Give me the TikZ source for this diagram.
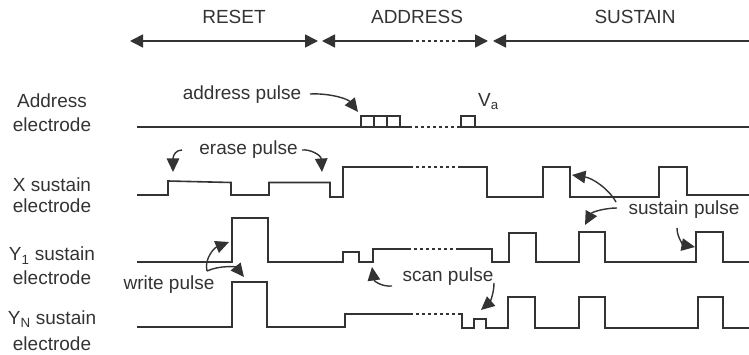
\documentclass[tikz,border=0pt]{standalone}
\usepackage{fontspec}
\setmainfont{Liberation Sans}
\usetikzlibrary{arrows.meta}
\definecolor{ink}{HTML}{333333}
\tikzset{
  phasetip/.tip={Triangle[length=13pt,width=13pt]},
  calltip/.tip={Triangle[length=13.5pt,width=12.5pt]}
}
\begin{document}
\begin{tikzpicture}[x=1pt,y=-1pt,
  every node/.style={inner sep=0pt,text=ink,font=\fontsize{19}{23}\selectfont},
  lbl/.style={anchor=base},
  wave/.style={draw=ink,line width=1.6pt,line join=miter},
  wavegap/.style={draw=ink,line width=1.6pt,dash pattern=on 3pt off 3pt},
  phase/.style={draw=ink,line width=1.6pt},
  callout/.style={draw=ink,line width=1.4pt,-calltip}]
\useasboundingbox (0,0) rectangle (749,355);

% ---- phase headers ----
\node[lbl] (reset)   at (234,24) {RESET};
\node[lbl] (address) at (417,24) {ADDRESS};
\node[lbl] (sustain) at (635,24) {SUSTAIN};
\coordinate (r0) at (130,41); \coordinate (r1) at (318,41);
\coordinate (a0) at (322,41); \coordinate (a1) at (410,41);
\coordinate (a2) at (458,41); \coordinate (a3) at (488,41);
\coordinate (s0) at (493,41); \coordinate (s1) at (749,41);
\draw[phase,phasetip-phasetip] (r0) -- (r1);
\draw[phase,phasetip-] (a0) -- (a1);
\draw[wavegap] (a1) -- (a2);
\draw[phase,-phasetip] (a2) -- (a3);
\draw[phase,phasetip-] (s0) -- (s1);

% ---- row labels ----
\node[lbl] (l1a) at (52,108) {Address};
\node[lbl] (l1b) at (52,132) {electrode};
\node[lbl] (l2a) at (52,192) {X sustain};
\node[lbl] (l2b) at (52,213) {electrode};
\node[lbl] (l3a) at (52,261) {Y\textsubscript{1} sustain};
\node[lbl] (l3b) at (52,284) {electrode};
\node[lbl] (l4a) at (52,324) {Y\textsubscript{N} sustain};
\node[lbl] (l4b) at (52,350) {electrode};

% ---- address electrode ----
\draw[wave] (137,127) -- (409,127);
\draw[wave] (361,127) rectangle (374,116);
\draw[wave] (374,127) rectangle (387,116);
\draw[wave] (387,127) rectangle (400,116);
\draw[wavegap] (409,127) -- (458,127);
\draw[wave] (458,127) -- (749,127);
\draw[wave] (461,127) rectangle (475,116);
\node[anchor=base west] (va) at (478,107) {V\textsubscript{a}};

% ---- X sustain electrode ----
\draw[wave] (137,195) -- (168,195) -- (168,181) -- (231,182.5) -- (231,195)
  -- (269,195) -- (269,182.5) -- (330,182.5) -- (330,197) -- (343,197)
  -- (343,167) -- (410,167);
\draw[wavegap] (410,167) -- (458,167);
\draw[wave] (458,167) -- (487,167) -- (487,197) -- (543,197) -- (543,167)
  -- (570,167) -- (570,197) -- (659,197) -- (659,167) -- (687,167)
  -- (687,195) -- (749,195);

% ---- Y1 sustain electrode ----
\draw[wave] (137,262) -- (232,262) -- (232,218) -- (268,218) -- (268,262)
  -- (343,262) -- (343,252) -- (359,252) -- (359,262) -- (373,262)
  -- (373,249) -- (408,249);
\draw[wavegap] (408,249) -- (457,249);
\draw[wave] (457,249) -- (492,249) -- (492,262) -- (509,262) -- (509,233)
  -- (536,233) -- (536,262) -- (579,262) -- (579,232) -- (605,232)
  -- (605,262) -- (696,262) -- (696,232) -- (723,232) -- (723,262)
  -- (749,262);

% ---- YN sustain electrode ----
\draw[wave] (137,327) -- (232,327) -- (232,282) -- (267,282) -- (267,327)
  -- (345,327) -- (345,314) -- (410,314);
\draw[wavegap] (410,314) -- (458,314);
\draw[wave] (458,314) -- (462,314) -- (462,328) -- (474,328) -- (474,319)
  -- (486,319) -- (486,328) -- (508,328) -- (508,297) -- (535,297)
  -- (535,328) -- (579,328) -- (579,297) -- (605,297) -- (605,328)
  -- (698,328) -- (698,297) -- (723,297) -- (723,328) -- (749,328);

% ---- callouts ----
\node[lbl] (apulse) at (242,99.5) {address pulse};
\coordinate (apS) at (310,94);  \coordinate (apT) at (358,112);
\draw[callout] (apS) .. controls (330,93) and (348,99) .. (apT);

\node[lbl] (epulse) at (248.5,155) {erase pulse};
\coordinate (epS1) at (182,150); \coordinate (epT1) at (173,172);
\coordinate (epS2) at (302,150); \coordinate (epT2) at (322,172);
\draw[callout] (epS1) .. controls (176,150) and (173,155) .. (epT1);
\draw[callout] (epS2) .. controls (310,149) and (321,155) .. (epT2);

\node[lbl] (wpulse) at (169,289) {write pulse};
\coordinate (wpS) at (207,271);
\coordinate (wpT1) at (229,242); \coordinate (wpT2) at (244,277);
\draw[callout] (wpS) .. controls (204,259) and (214,248) .. (wpT1);
\draw[callout] (wpS) .. controls (220,265) and (236,267) .. (wpT2);

\node[lbl] (spulse) at (448,281) {scan pulse};
\coordinate (spS1) at (392,286); \coordinate (spT1) at (372,267);
\coordinate (spS2) at (494,283); \coordinate (spT2) at (481,310);
\draw[callout] (spS1) .. controls (382,287) and (374,281) .. (spT1);
\draw[callout] (spS2) .. controls (494,295) and (489,303) .. (spT2);

\node[lbl] (supulse) at (684,214.5) {sustain pulse};
\coordinate (suS1) at (616,202); \coordinate (suT1) at (572,175);
\coordinate (suS2) at (617,208); \coordinate (suT2) at (585,225);
\coordinate (suS3) at (677,228); \coordinate (suT3) at (695,247);
\draw[callout] (suS1) .. controls (608,188) and (592,178) .. (suT1);
\draw[callout] (suS2) .. controls (605,208) and (592,212) .. (suT2);
\draw[callout] (suS3) .. controls (677,238) and (684,245) .. (suT3);
\end{tikzpicture}
\end{document}
